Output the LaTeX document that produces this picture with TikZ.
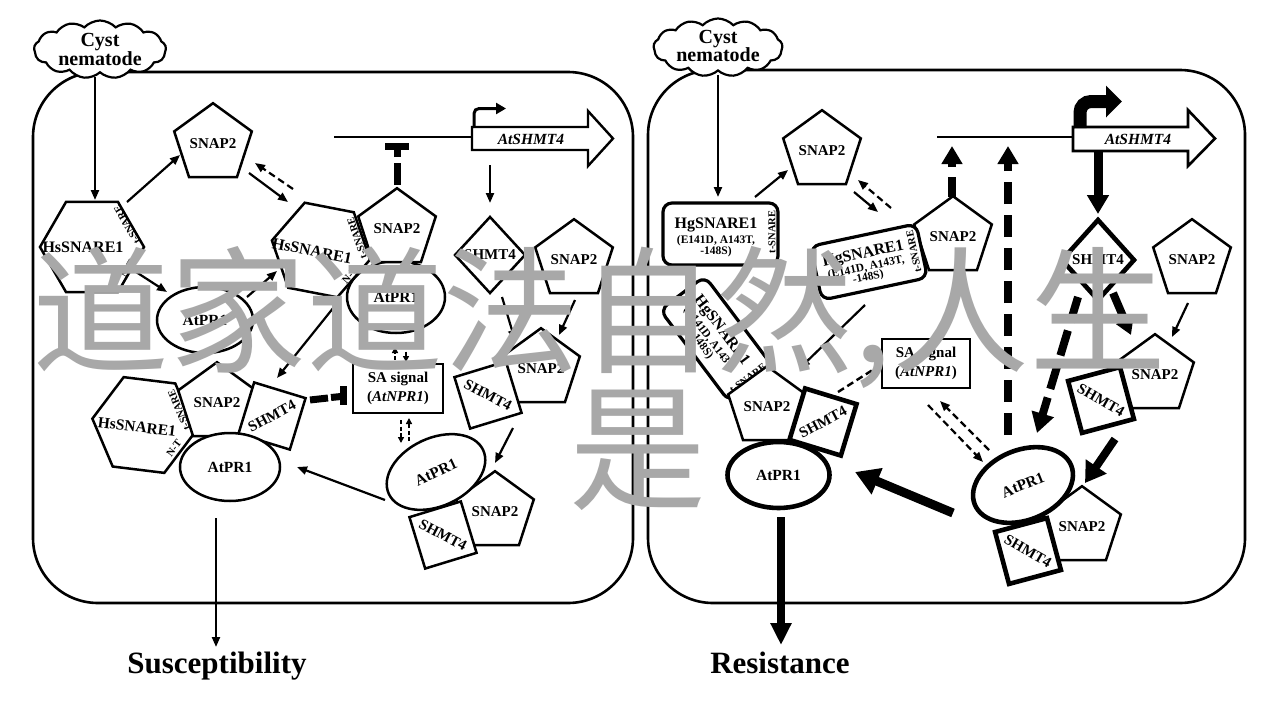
\documentclass[tikz,border=0pt]{standalone}
\usepackage{fontspec}
\setmainfont{Liberation Serif}
\newfontfamily\cjkfont{Noto Sans CJK SC}
\usetikzlibrary{shapes.geometric,shapes.symbols,arrows.meta}
\definecolor{wmgray}{RGB}{168,168,168}
\newcommand{\fz}[1]{\fontsize{#1}{#1}\selectfont\bfseries}
\begin{document}
\begin{tikzpicture}[x=1pt,y=-1pt,
  every node/.style={inner sep=0pt, outer sep=0pt},
  cloudsh/.style={cloud, draw, fill=white, line width=2.2pt, cloud puffs=13, cloud puff arc=95, cloud ignores aspect, minimum width=132pt, minimum height=58pt},
  shp/.style={draw, fill=white, line width=2.5pt},
  tk/.style={line width=4.6pt},
  pent/.style={shp, regular polygon, regular polygon sides=5, minimum size=74pt, font=\fz{15}},
  hexa/.style={shp, regular polygon, regular polygon sides=6, minimum size=104pt},
  sq/.style={shp, diamond, minimum width=76pt, minimum height=76pt, font=\fz{15}},
  dia/.style={shp, diamond, font=\fz{15}},
  ell/.style={shp, ellipse, font=\fz{15.5}},
  hgbox/.style={shp, rectangle, line width=3.2pt, rounded corners=9pt},
  sabox/.style={shp, rectangle, line width=2.2pt, minimum width=90pt, minimum height=49pt, align=center, font=\fontsize{15}{19}\selectfont\bfseries},
  lbl/.style={font=\fz{16}},
  small/.style={font=\fz{10.5}},
  xs/.style={font=\fz{11.5}},
  gene/.style={draw, fill=white, line width=2.4pt},
  con/.style={line width=2.2pt, -{Triangle[length=10pt,width=8pt]}},
  dcon/.style={con, dash pattern=on 7pt off 4pt},
  dline/.style={line width=2.4pt, dash pattern=on 7pt off 4pt},
  mcon/.style={line width=2.4pt, dash pattern=on 4pt off 2.5pt, -{Triangle[length=6pt,width=6pt]}},
  bcon/.style={line width=8pt, -{Triangle[length=20pt,width=22pt]}},
  bdash/.style={bcon, dash pattern=on 22pt off 11pt},
  blk/.style={line width=7pt},
  panel/.style={line width=2.6pt, rounded corners=65pt},
  wm/.style={text=wmgray, font=\cjkfont\fontsize{137}{137}\selectfont}
]
\fill[white] (0,0) rectangle (1280,720);
\useasboundingbox (0,0) rectangle (1280,720);

% panels
\draw[panel] (33,72) rectangle (633,603);
\draw[panel] (648,70) rectangle (1245,603);

% clouds
\node[cloudsh] (cloudL) at (100,49.5) {};
\node[font=\fontsize{20}{18.5}\selectfont\bfseries, align=center] (cloudLt) at (100,49.5) {Cyst\\nematode};
\node[cloudsh, minimum width=129pt] (cloudR) at (718,47.5) {};
\node[font=\fontsize{20}{18.5}\selectfont\bfseries, align=center] (cloudRt) at (718,46) {Cyst\\nematode};

% DNA lines and genes
\draw[line width=1.8pt] (334,137) -- (472,137);
\draw[gene] (472,127) -- (588,127) -- (588,111) -- (613,138.5) -- (588,166) -- (588,150) -- (472,150) -- cycle;
\node[font=\fz{15.5}\itshape] (geneLt) at (531,139) {AtSHMT4};
\draw[line width=3pt, rounded corners=5pt, -{Triangle[length=10pt,width=11pt]}] (474,127) -- (474,108.5) -- (506,108.5);

\draw[line width=1.8pt] (937,137) -- (1073,137);
\draw[gene, line width=2.6pt] (1073,127) -- (1188,127) -- (1188,110) -- (1215,138.5) -- (1188,166) -- (1188,151) -- (1073,151) -- cycle;
\node[font=\fz{15.5}\itshape] (geneRt) at (1138,139) {AtSHMT4};
\draw[line width=13pt, rounded corners=11pt, -{Triangle[length=16pt,width=31pt]}] (1080,128) -- (1080,101.5) -- (1122,101.5);

% ---------- left panel shapes ----------
\node[ell, minimum width=98pt, minimum height=72pt] (prB) at (396,297) {AtPR1};
\node[hexa, rotate=-11, minimum size=100pt] (hexB) at (321,250) {};
\node[lbl, rotate=-11] (hexBt) at (312,251) {HsSNARE1};
\node[small, rotate=109] (hexBs) at (357,238) {t-SNARE};
\node[small, rotate=49] (hexBn) at (350,275) {N-T};
\node[pent] (snapB) at (397,229) {SNAP2};

\node[hexa] (hexA) at (92,247) {};
\node[lbl] (hexAt) at (83,247) {HsSNARE1};
\node[small, rotate=120] (hexAs) at (127,225) {t-SNARE};
\node[small, rotate=60] (hexAn) at (128,269) {N-T};

\node[pent] (snapA) at (213,144) {SNAP2};
\node[ell, minimum width=96pt, minimum height=66pt] (prA) at (205,320) {AtPR1};
\node[dia, minimum width=70pt, minimum height=76pt] (dmL) at (490,255) {SHMT4};
\node[pent] (snapC) at (574,260) {SNAP2};
\node[pent] (snapD) at (541,369) {SNAP2};
\node[sq, rotate=-28] (sqB) at (488,395) {SHMT4};
\node[sabox] (saL) at (398,388.5) {SA signal\\(\textit{AtNPR1})};

\node[hexa, rotate=-7] (hexC) at (144,425) {};
\node[lbl, font=\fz{15.5}, rotate=-7] (hexCt) at (137,427) {HsSNARE1};
\node[small, rotate=113] (hexCs) at (179,410) {t-SNARE};
\node[small, rotate=53] (hexCn) at (174,448) {N-T};
\node[pent, minimum size=72pt] (snapE) at (217,403) {SNAP2};
\node[sq, rotate=28] (sqA) at (272,416) {SHMT4};
\node[ell, minimum width=100pt, minimum height=68pt] (prC) at (230,467) {AtPR1};

\node[pent] (snapF) at (495,512) {SNAP2};
\node[sq, rotate=-28] (sqC) at (443,535) {SHMT4};
\node[ell, rotate=25, minimum width=104pt, minimum height=68pt] (prD) at (436,472) {AtPR1};

% ---------- right panel shapes ----------
\node[hgbox, minimum width=115pt, minimum height=62pt] (hgA) at (720.5,234) {};
\node[lbl, anchor=base] (hgA1) at (716,228) {HgSNARE1};
\node[xs, anchor=base] (hgA2) at (716,243) {(E141D, A143T,};
\node[xs, anchor=base] (hgA3) at (716,254) {-148S)};
\node[small, rotate=90] (hgAs) at (772,232) {t-SNARE};

\node[pent] (snapR1) at (822,151) {SNAP2};

\node[pent] (snapR2) at (953,237) {SNAP2};
\begin{scope}[shift={(869,262)}, rotate=12, transform shape]
\node[hgbox, minimum width=108pt, minimum height=55pt] (hgB) at (0,0) {};
\node[lbl, anchor=base] (hgB1) at (-4,-5) {HgSNARE1};
\node[xs, anchor=base] (hgB2) at (-4,8) {(E141D, A143T,};
\node[xs, anchor=base] (hgB3) at (-4,18) {-148S)};
\node[small, rotate=90] (hgBs) at (46,-1) {t-SNARE};
\end{scope}

\begin{scope}[shift={(717,339)}, rotate=-53, transform shape]
\node[hgbox, minimum width=115pt, minimum height=56pt] (hgC) at (0,0) {};
\node[lbl, anchor=base] (hgC1) at (-4.5,-5) {HgSNARE1};
\node[xs, anchor=base] (hgC2) at (-4.5,9) {(E141D, A143T,};
\node[xs, anchor=base] (hgC3) at (-4.5,19) {-148S)};
\node[small, rotate=90] (hgCs) at (50,-1) {t-SNARE};
\end{scope}
\node[pent] (snapR6) at (767,407) {SNAP2};
\node[sq, tk, rotate=28] (sqR1) at (823,422) {SHMT4};
\node[ell, tk, minimum width=102pt, minimum height=66pt] (prRL) at (778.5,475) {AtPR1};

\node[sabox, minimum width=88pt] (saR) at (926,363.5) {SA signal\\(\textit{AtNPR1})};

\node[dia, tk, minimum width=72pt, minimum height=80pt] (dmR) at (1098,260) {SHMT4};
\node[pent] (snapR3) at (1192,260) {SNAP2};
\node[pent] (snapR4) at (1155,375) {SNAP2};
\node[sq, tk, rotate=-30] (sqR2) at (1101,400) {SHMT4};
\node[pent] (snapR5) at (1082,527) {SNAP2};
\node[sq, tk, rotate=-30] (sqR3) at (1028,551) {SHMT4};
\node[ell, tk, rotate=22, minimum width=104pt, minimum height=70pt] (prR) at (1023,485) {AtPR1};

% outcome labels
\node[font=\fz{31}, anchor=base] (susc) at (217,673) {Susceptibility};
\node[font=\fz{31}, anchor=base] (resist) at (780,673) {Resistance};

% ---------- left connectors ----------
\draw[con] ([shift={(-5,27.5)}]cloudL.center) -- ([shift={(3,-47)}]hexA.center);
\draw[con] ([shift={(35,-45)}]hexA.center) -- ([shift={(-33,11)}]snapA.center);
\draw[con] ([shift={(36,29)}]snapA.center) -- ([shift={(-33,-48)}]hexB.center);
\draw[dcon] ([shift={(-28,-61)}]hexB.center) -- ([shift={(42,19)}]snapA.center);
\draw[con] ([shift={(41,23)}]hexA.center) -- ([shift={(-38,-28)}]prA.center);
\draw[con] ([shift={(42,-23)}]prA.center) -- ([shift={(-44,21)}]hexB.center);
\draw[con] ([shift={(17,52)}]hexB.center) -- ([shift={(5,-38)}]sqA.center);
\draw[con] ([shift={(-41,26)}]geneLt.center) -- ([shift={(0,-52)}]dmL.center);
\draw[con] ([shift={(12,42)}]dmL.center) -- ([shift={(27,-55)}]sqB.center);
\draw[con] ([shift={(1,40)}]snapC.center) -- ([shift={(18,-34)}]snapD.center);
\draw[con] ([shift={(25,33)}]sqB.center) -- ([shift={(59,-9)}]prD.center);
\draw[con] ([shift={(-51,28)}]prD.center) -- ([shift={(67,0)}]prC.center);
\draw[con] ([shift={(-14,51)}]prC.center) -- ([shift={(-1,-26)}]susc.base);

% inhibition bars
\draw[blk] ([shift={(0,-44)}]snapB.center) -- ++(0,-22);
\draw[blk] ([shift={(0,-72)}]snapB.center) -- ++(0,-10);
\draw[blk] ([shift={(-12,-82.5)}]snapB.center) -- ++(24,0);
\draw[blk] ([shift={(38,-16)}]sqA.center) -- ++(18,-2);
\draw[blk] ([shift={(59,-18.5)}]sqA.center) -- ++(10,-1);
\draw[blk] ([shift={(71.5,-30)}]sqA.center) -- ++(0,19);

% small dashed arrows around SA signal
\draw[mcon] ([shift={(10,48)}]prB.center) -- ([shift={(8,-26.5)}]saL.center);
\draw[mcon] ([shift={(-3,-28.5)}]saL.center) -- ([shift={(-1,50)}]prB.center);
\draw[mcon] ([shift={(3,31.5)}]saL.center) -- ([shift={(-35,-29)}]prD.center);
\draw[mcon] ([shift={(-27,-31)}]prD.center) -- ([shift={(11,29.5)}]saL.center);

% ---------- right connectors ----------
\coordinate (dnaR1) at (952,146);
\coordinate (dnaR2) at (1008,146);
\draw[con] ([shift={(0,27.5)}]cloudR.center) -- ([shift={(-2.5,-37)}]hgA.center);
\draw[con] ([shift={(34.5,-37)}]hgA.center) -- ([shift={(-34,19)}]snapR1.center);
\draw[con] ([shift={(32,41)}]snapR1.center) -- ([shift={(9,-50)}]hgB.center);
\draw[dcon] ([shift={(22,-54)}]hgB.center) -- ([shift={(36,29)}]snapR1.center);
\draw[con] ([shift={(-4,43)}]hgB.center) -- ([shift={(-23,-54)}]sqR1.center);
\draw[dline] ([shift={(15,-30)}]sqR1.center) -- ([shift={(-44,0.5)}]saR.center);
\draw[bcon, dash pattern=on 20pt off 10pt, -{Triangle[length=18pt,width=20pt]}] ([shift={(-1,-40)}]snapR2.center) -- (dnaR1);
\draw[bdash, -{Triangle[length=18pt,width=20pt]}] ([shift={(-15,-50)}]prR.center) -- (dnaR2);
\draw[bcon, line width=9pt, -{Triangle[length=19pt,width=21pt]}] ([shift={(-40,13)}]geneRt.center) -- ([shift={(0,-46)}]dmR.center);
\draw[bcon, -{Triangle[length=16pt,width=18pt]}] ([shift={(15,33)}]dmR.center) -- ([shift={(-24,-40)}]snapR4.center);
\draw[bdash, dash pattern=on 26pt off 9pt] ([shift={(-20,37)}]dmR.center) -- ([shift={(14,-52)}]prR.center);
\draw[con] ([shift={(-4,43)}]snapR3.center) -- ([shift={(17,-38)}]snapR4.center);
\draw[bcon, -{Triangle[length=20pt,width=24pt]}] ([shift={(14,39)}]sqR2.center) -- ([shift={(62,-2)}]prR.center);
\draw[bcon, line width=9pt, -{Triangle[length=24pt,width=27pt]}] ([shift={(-70,28)}]prR.center) -- ([shift={(76.5,-3)}]prRL.center);
\draw[dcon] ([shift={(2,41.5)}]saR.center) -- ([shift={(-40,-23)}]prR.center);
\draw[dcon] ([shift={(-34,-35)}]prR.center) -- ([shift={(14,37.5)}]saR.center);
\draw[bcon, -{Triangle[length=22pt,width=20pt]}] ([shift={(2.5,42)}]prRL.center) -- ([shift={(1,-28)}]resist.base);

% watermark
\node[wm, anchor=base west] (wm1) at (32,362) {道家道法自然,人生};
\node[wm, anchor=base] (wm2) at (638,499) {是};
\end{tikzpicture}
\end{document}
